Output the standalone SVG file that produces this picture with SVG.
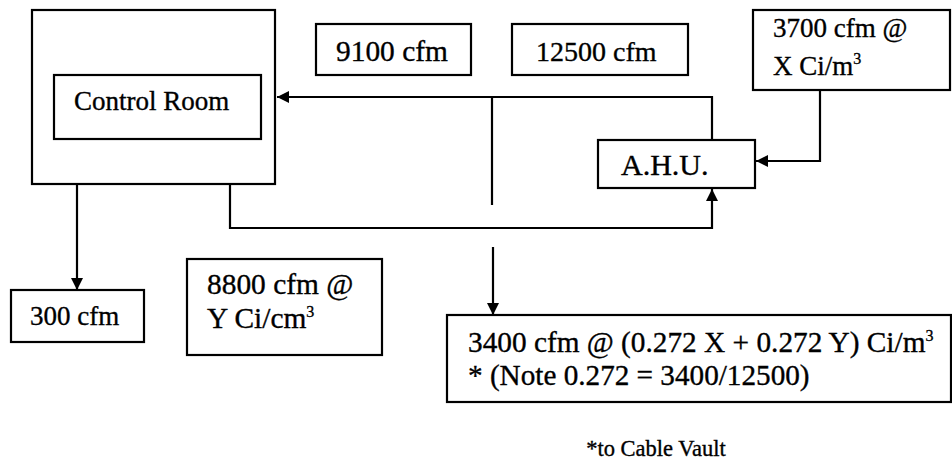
<svg xmlns="http://www.w3.org/2000/svg" width="952" height="461" viewBox="0 0 952 461">
<style>
.b{fill:#fff;stroke:#000;stroke-width:2.2}
.t{font-family:"Liberation Serif","Times New Roman",serif;fill:#000;stroke:#000;stroke-width:0.35}
.s{font-size:16px}
.c{fill:none;stroke:#000;stroke-width:2.2}
</style>
<defs>
<marker id="ah" viewBox="0 0 12 12" refX="12" refY="6" markerWidth="12" markerHeight="12" markerUnits="userSpaceOnUse" orient="auto">
<path d="M0,0 L12,6 L0,12 Z" fill="#000"/>
</marker>
</defs>
<rect width="952" height="461" fill="#fff"/>
<g id="connectors">
<path class="c" d="M712,139 V97 H277" marker-end="url(#ah)"/>
<path class="c" d="M492,97 V205"/>
<path class="c" d="M230,184 V228 H712 V189" marker-end="url(#ah)"/>
<path class="c" d="M820,90 V161 H756" marker-end="url(#ah)"/>
<path class="c" d="M77,184 V290" marker-end="url(#ah)"/>
<path class="c" d="M493,247 V315" marker-end="url(#ah)"/>
</g>
<g id="outer">
<rect class="b" x="32" y="10" width="243" height="174"/>
</g>
<g id="control-room">
<rect class="b" x="54" y="75" width="207" height="64"/>
<text class="t" x="74" y="110" style="font-size:27px">Control Room</text>
</g>
<g id="n9100">
<rect class="b" x="316" y="24" width="155" height="51"/>
<text class="t" x="336" y="61" style="font-size:29.4px">9100 cfm</text>
</g>
<g id="n12500">
<rect class="b" x="512" y="24" width="176" height="51"/>
<text class="t" x="536" y="61" style="font-size:28px">12500 cfm</text>
</g>
<g id="n3700">
<rect class="b" x="753" y="10" width="197" height="80"/>
<text class="t" x="773" y="37" style="font-size:27px">3700 cfm @</text>
<text class="t" x="773" y="75" style="font-size:27px">X Ci/m<tspan class="s" dy="-11">3</tspan></text>
</g>
<g id="ahu">
<rect class="b" x="598" y="140" width="157" height="48"/>
<text class="t" x="621" y="175" style="font-size:30px">A.H.U.</text>
</g>
<g id="n300">
<rect class="b" x="11" y="290" width="133" height="52"/>
<text class="t" x="30" y="325" style="font-size:27px">300 cfm</text>
</g>
<g id="n8800">
<rect class="b" x="187" y="259" width="195" height="96"/>
<text class="t" x="207" y="294" style="font-size:29.4px">8800 cfm @</text>
<text class="t" x="207" y="328" style="font-size:29.4px">Y Ci/cm<tspan class="s" dy="-11">3</tspan></text>
</g>
<g id="n3400">
<rect class="b" x="447" y="315" width="504" height="87"/>
<text class="t" x="468" y="352" style="font-size:29.3px">3400 cfm @ (0.272 X + 0.272 Y) Ci/m<tspan class="s" dy="-11">3</tspan></text>
<text class="t" x="468" y="385" style="font-size:29.2px">* (Note 0.272 = 3400/12500)</text>
</g>
<g id="note">
<text class="t" x="656" y="456" text-anchor="middle" style="font-size:22.5px">*to Cable Vault</text>
</g>
</svg>
